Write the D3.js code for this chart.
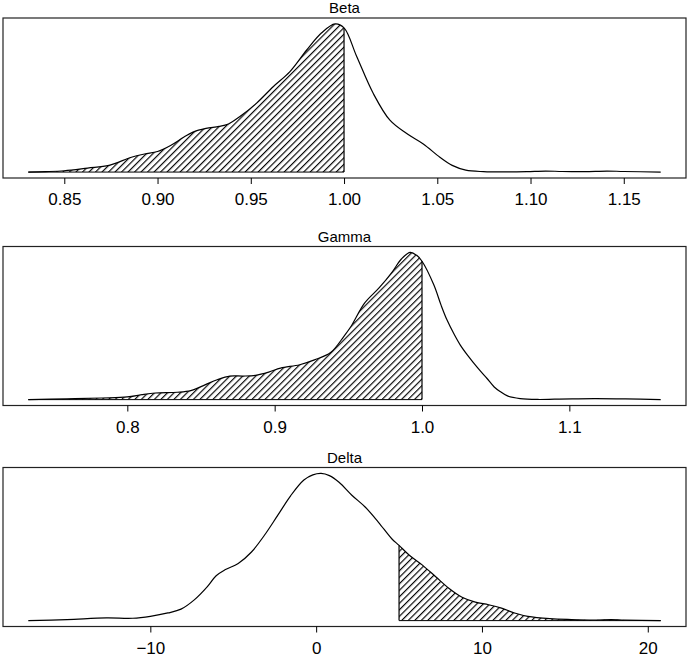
<!DOCTYPE html>
<html>
<head>
<meta charset="utf-8">
<script src="https://cdn.jsdelivr.net/npm/d3@7"></script>
<style>
  html, body { margin: 0; padding: 0; background: #fff; }
  svg { display: block; }
  text { font-family: "Liberation Sans", Arial, sans-serif; fill: #000; }
</style>
</head>
<body>
<svg id="chart" width="689" height="657"></svg>
<script>
// ---- data ----
const titles = ["Beta", "Gamma", "Delta"];

const betaX = [0.8307, 0.840, 0.850, 0.8625, 0.874, 0.886, 0.893, 0.900, 0.907, 0.914, 0.919, 0.926, 0.933, 0.938, 0.944, 0.953, 0.962, 0.971, 0.980, 0.988, 0.9952, 1.000, 1.0068, 1.0157, 1.0246, 1.0336, 1.0425, 1.0514, 1.0580, 1.0653, 1.0748, 1.0866, 1.098, 1.108, 1.117, 1.129, 1.141, 1.150, 1.1698];
const betaY = [0, 0.003, 0.009, 0.027, 0.045, 0.10, 0.122, 0.139, 0.18, 0.235, 0.27, 0.295, 0.308, 0.325, 0.374, 0.464, 0.576, 0.678, 0.824, 0.94, 1.0, 0.973, 0.78, 0.53, 0.35, 0.26, 0.19, 0.10, 0.045, 0.013, 0.003, 0.001, 0.003, 0.007, 0.004, 0.003, 0.007, 0.004, 0];

const gammaX = [0.7328, 0.759, 0.783, 0.800, 0.810, 0.819, 0.834, 0.843, 0.852, 0.861, 0.8696, 0.8785, 0.887, 0.896, 0.904, 0.917, 0.927, 0.938, 0.947, 0.952, 0.961, 0.971, 0.980, 0.986, 0.992, 0.9964, 1.000, 1.008, 1.013, 1.017, 1.022, 1.026, 1.031, 1.035, 1.040, 1.044, 1.049, 1.053, 1.058, 1.0666, 1.0785, 1.090, 1.102, 1.117, 1.138, 1.162];
const gammaY = [0, 0.005, 0.011, 0.018, 0.034, 0.045, 0.05, 0.061, 0.097, 0.135, 0.16, 0.16, 0.165, 0.187, 0.214, 0.237, 0.27, 0.32, 0.43, 0.50, 0.655, 0.76, 0.87, 0.955, 1.0, 0.98, 0.94, 0.78, 0.64, 0.54, 0.44, 0.37, 0.30, 0.25, 0.19, 0.145, 0.086, 0.055, 0.025, 0.007, 0.001, 0.003, 0.005, 0.007, 0.005, 0];

const deltaX = [-17.36, -15.03, -12.65, -11.06, -10, -8.94, -8.15, -7.35, -6.56, -6.03, -5.5, -4.7, -3.9, -3.13, -2.33, -1.54, -0.74, -0.2, 0.3, 0.8, 1.38, 2.17, 2.97, 3.76, 4.56, 5.0, 5.62, 6.41, 7.21, 8.0, 8.8, 9.6, 10.4, 11.18, 11.97, 12.77, 14.1, 15.4, 16.75, 17.8, 18.6, 20.78];
const deltaY = [0, 0.007, 0.018, 0.016, 0.029, 0.052, 0.078, 0.141, 0.231, 0.305, 0.345, 0.388, 0.466, 0.578, 0.713, 0.848, 0.955, 0.99, 1.0, 0.985, 0.94, 0.85, 0.77, 0.668, 0.556, 0.511, 0.444, 0.377, 0.298, 0.22, 0.159, 0.126, 0.108, 0.085, 0.052, 0.029, 0.013, 0.007, 0.004, 0.007, 0.004, 0];

const betaTicks = [0.85, 0.90, 0.95, 1.00, 1.05, 1.10, 1.15];
const betaTickLabels = ["0.85", "0.90", "0.95", "1.00", "1.05", "1.10", "1.15"];
const gammaTicks = [0.8, 0.9, 1.0, 1.1];
const gammaTickLabels = ["0.8", "0.9", "1.0", "1.1"];
const deltaTicks = [-10, 0, 10, 20];
const deltaTickLabels = ["\u221210", "0", "10", "20"];

const cutoffs = [1.0, 1.0, 5.0];
const shadeSides = ["left", "left", "right"];

// ---- layout ----
const svg = d3.select("#chart");
const left = 3, right = 686;
const panels = [
  { top: 18,    bottom: 178 },
  { top: 246.5, bottom: 405.5 },
  { top: 467.5, bottom: 626.5 }
];

const defs = svg.append("defs");
defs.append("pattern")
  .attr("id", "hatch")
  .attr("patternUnits", "userSpaceOnUse")
  .attr("width", 4.6).attr("height", 10)
  .attr("patternTransform", "rotate(45)")
  .append("line")
  .attr("x1", 0.6).attr("y1", -1).attr("x2", 0.6).attr("y2", 11)
  .attr("stroke", "#000").attr("stroke-width", 1.15);

const series = [
  { xs: betaX, ys: betaY, ticks: betaTicks, labels: betaTickLabels },
  { xs: gammaX, ys: gammaY, ticks: gammaTicks, labels: gammaTickLabels },
  { xs: deltaX, ys: deltaY, ticks: deltaTicks, labels: deltaTickLabels }
];

const curve = d3.curveCatmullRom.alpha(0.5);

series.forEach((s, i) => {
  const p = panels[i];
  const data = s.xs.map((x, j) => ({ x, y: s.ys[j] }));
  const [xmin, xmax] = d3.extent(s.xs);
  const xpad = (xmax - xmin) * 0.04;
  const ymax = d3.max(s.ys);
  const x = d3.scaleLinear().domain([xmin - xpad, xmax + xpad]).range([left, right]);
  const y = d3.scaleLinear().domain([-0.04 * ymax, ymax * 1.04]).range([p.bottom, p.top]);

  const g = svg.append("g");

  // clip for the hatched region
  const cut = cutoffs[i];
  const cx = x(cut);
  const clipId = "clip" + i;
  const cr = shadeSides[i] === "left"
    ? { x0: x(xmin) - 1, x1: cx }
    : { x0: cx, x1: x(xmax) + 1 };
  defs.append("clipPath").attr("id", clipId)
    .append("rect")
    .attr("x", cr.x0).attr("y", p.top)
    .attr("width", cr.x1 - cr.x0).attr("height", p.bottom - p.top);

  const area = d3.area().x(d => x(d.x)).y0(y(0)).y1(d => y(Math.max(0, d.y))).curve(curve);
  g.append("path").datum(data)
    .attr("d", area)
    .attr("fill", "url(#hatch)")
    .attr("clip-path", `url(#${clipId})`);

  // polygon border: baseline under shading + vertical edge at cutoff
  const cutIdx = s.xs.indexOf(cut);
  const cutY = s.ys[cutIdx];
  g.append("line")
    .attr("x1", shadeSides[i] === "left" ? x(xmin) : cx)
    .attr("x2", shadeSides[i] === "left" ? cx : x(xmax))
    .attr("y1", y(0)).attr("y2", y(0))
    .attr("stroke", "#000").attr("stroke-width", 1);
  g.append("line")
    .attr("x1", cx).attr("x2", cx)
    .attr("y1", y(0)).attr("y2", y(cutY))
    .attr("stroke", "#000").attr("stroke-width", 1.2);

  // density curve
  const line = d3.line().x(d => x(d.x)).y(d => y(d.y)).curve(curve);
  g.append("path").datum(data)
    .attr("d", line)
    .attr("fill", "none")
    .attr("stroke", "#000")
    .attr("stroke-width", 1.2);

  // frame
  g.append("rect")
    .attr("x", left).attr("y", p.top)
    .attr("width", right - left).attr("height", p.bottom - p.top)
    .attr("fill", "none").attr("stroke", "#222").attr("stroke-width", 1.2);

  // x axis
  const axis = d3.axisBottom(x)
    .tickValues(s.ticks)
    .tickFormat((d, k) => s.labels[k])
    .tickSize(6).tickPadding(9);
  const ag = g.append("g").attr("transform", `translate(0,${p.bottom})`).call(axis);
  ag.select(".domain").remove();
  ag.selectAll(".tick line").attr("stroke", "#000").attr("stroke-width", 1);
  ag.selectAll(".tick text")
    .attr("font-size", 17)
    .attr("font-family", "'Liberation Sans', Arial, sans-serif")
    .attr("fill", "#000");

  // title
  g.append("text")
    .attr("x", (left + right) / 2)
    .attr("y", p.top - 5)
    .attr("text-anchor", "middle")
    .attr("font-size", 15)
    .text(titles[i]);
});
</script>
</body>
</html>
